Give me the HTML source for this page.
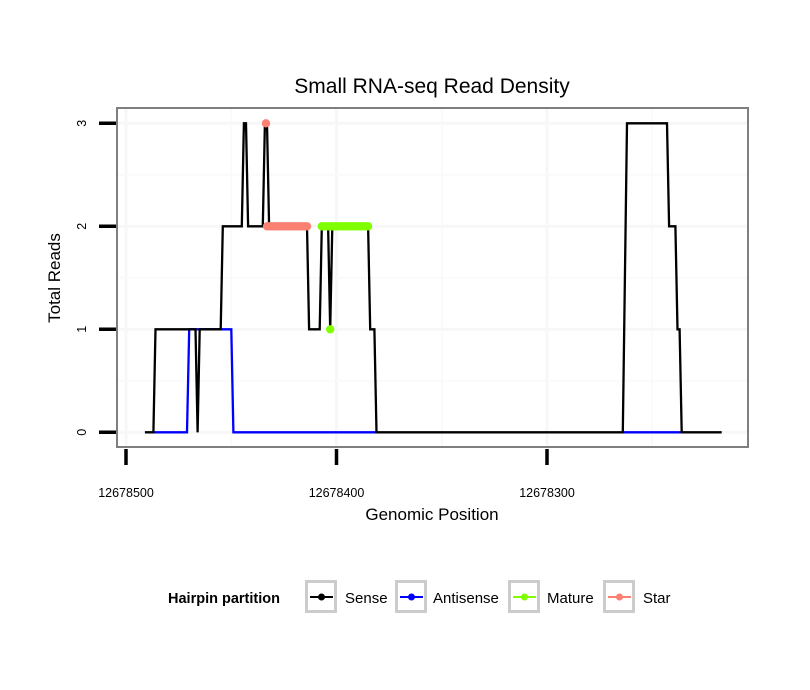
<!DOCTYPE html>
<html><head><meta charset="utf-8"><style>
html,body{margin:0;padding:0;background:#fff}
svg{display:block;font-family:"Liberation Sans",sans-serif}
</style></head><body>
<svg id="chart" width="810" height="690" viewBox="0 0 810 690">
<text x="432" y="93" font-size="21" text-anchor="middle">Small RNA-seq Read Density</text>
<rect x="117" y="108" width="631" height="339" fill="#fff"/>
<g id="grid"></g>
<g id="series"></g>
<rect x="117" y="108" width="631" height="339" fill="none" stroke="#7f7f7f" stroke-width="2"/>
<g id="axes"></g>
<text x="432" y="520" font-size="17" text-anchor="middle">Genomic Position</text>
<text transform="translate(60,278) rotate(-90)" font-size="17" text-anchor="middle">Total Reads</text>
<g>
<text x="168" y="603" font-size="14.5" font-weight="bold">Hairpin partition</text>
<g id="legend"></g>
</g>
</svg>
<script>
const xTicks = [12678500, 12678400, 12678300];
const yTicks = [0, 1, 2, 3];
const senseX = [12678491,12678487,12678486,12678467,12678466,12678465,12678455,12678454,12678445,12678444,12678443,12678442,12678435,12678434,12678433,12678432,12678414,12678413,12678408,12678407,12678404,12678403,12678402,12678385,12678384,12678382,12678381,12678264,12678262,12678243,12678242,12678239,12678238,12678237,12678236,12678217];
const senseY = [0,0,1,1,0,1,1,2,2,3,3,2,2,3,3,2,2,1,1,2,2,1,2,2,1,1,0,0,3,3,2,2,1,1,0,0];
const antiX1 = [12678487,12678471,12678470,12678450,12678449,12678381];
const antiY1 = [0,0,1,1,0,0];
const antiX2 = [12678264,12678236];
const antiY2 = [0,0];
const matureX = [12678407,12678406,12678405,12678404,12678403,12678402,12678401,12678400,12678399,12678398,12678397,12678396,12678395,12678394,12678393,12678392,12678391,12678390,12678389,12678388,12678387,12678386,12678385];
const matureY = [2,2,2,2,2,2,2,2,2,2,2,2,2,2,2,2,2,2,2,2,2,2,2];
const matureExtraX = [12678403];
const matureExtraY = [1];
const starX = [12678433,12678432,12678431,12678430,12678429,12678428,12678427,12678426,12678425,12678424,12678423,12678422,12678421,12678420,12678419,12678418,12678417,12678416,12678415,12678414];
const starY = [2,2,2,2,2,2,2,2,2,2,2,2,2,2,2,2,2,2,2,2];
const starExtraX = [12678433.5];
const starExtraY = [3];
const legendLabels = ["Sense","Antisense","Mature","Star"];
const legendColors = ["#000000","#0000ff","#7fff00","#fa8072"];

const NS="http://www.w3.org/2000/svg";
const xs = p => 126 + (12678500 - p) * 2.105;
const ys = v => 432.3 - v * 103;
function mk(tag, attrs, parent){const e=document.createElementNS(NS,tag);for(const k in attrs)e.setAttribute(k,attrs[k]);parent.appendChild(e);return e;}
const grid=document.getElementById('grid'), series=document.getElementById('series'), axes=document.getElementById('axes'), legend=document.getElementById('legend');

for(let i=0;i<xTicks.length;i++){
  [xTicks[i], xTicks[i]-50].forEach((p,j)=>{
    const g=mk('line',{x1:xs(p),x2:xs(p),y1:109,y2:446,stroke:j?'#fafafa':'#f7f7f7','stroke-width':j?2:3},grid);
    
    
  });
}
for(let i=0;i<yTicks.length;i++){
  [yTicks[i], yTicks[i]+0.5].forEach((v,j)=>{
    if(ys(v)<109) return;
    const g=mk('line',{x1:118,x2:747,y1:ys(v),y2:ys(v),stroke:j?'#fafafa':'#f7f7f7','stroke-width':j?2:3},grid);
    
    
  });
}

function line(X,Y,color,name){
  const pts=X.map((x,i)=>xs(x).toFixed(1)+','+ys(Y[i]).toFixed(1)).join(' ');
  const l=mk('polyline',{points:pts,fill:'none',stroke:color,'stroke-width':2.3,'stroke-linejoin':'miter'},series);
  
  
}
function pts(X,Y,color,name){
  for(let i=0;i<X.length;i++){
    const c=mk('circle',{cx:xs(X[i]),cy:ys(Y[i]),r:4.2,fill:color},series);
    
    
  }
}
line(antiX1,antiY1,'#0000ff','antisense-line');
line(antiX2,antiY2,'#0000ff','antisense-line');
line(senseX,senseY,'#000000','sense-line');
line(starX,starY,'#fa8072','star-line');
pts(starX,starY,'#fa8072','star-point');
pts(starExtraX,starExtraY,'#fa8072','star-point');
line(matureX,matureY,'#7fff00','mature-line');
pts(matureX,matureY,'#7fff00','mature-point');
pts(matureExtraX,matureExtraY,'#7fff00','mature-point');

for(let i=0;i<xTicks.length;i++){
  const x=xs(xTicks[i]);
  const t=mk('line',{x1:x,x2:x,y1:449,y2:465,stroke:'#000','stroke-width':3.5},axes);
  
  
  const l=mk('text',{x:x,y:497,'font-size':12.5,'text-anchor':'middle'},axes);
  l.textContent=xTicks[i];
  
  
}
for(let i=0;i<yTicks.length;i++){
  const y=ys(yTicks[i]);
  const t=mk('line',{x1:99,x2:116,y1:y,y2:y,stroke:'#000','stroke-width':3.5},axes);
  
  
  const l=mk('text',{transform:`translate(86,${y}) rotate(-90)`,'font-size':12.5,'text-anchor':'middle'},axes);
  l.textContent=yTicks[i];
  
  
}

const keyX=[305,395,508,603], textX=[345,433,547,643];
for(let i=0;i<legendLabels.length;i++){
  const g=mk('g',{},legend);
  
  
  mk('rect',{x:keyX[i]+1.5,y:581.5,width:29,height:30,fill:'#fff',stroke:'#cccccc','stroke-width':3},g);
  mk('line',{x1:keyX[i]+5,x2:keyX[i]+28,y1:597,y2:597,stroke:legendColors[i],'stroke-width':2},g);
  mk('circle',{cx:keyX[i]+16.5,cy:597,r:3.5,fill:legendColors[i]},g);
  const t=mk('text',{x:textX[i],y:603,'font-size':15},g);
  t.textContent=legendLabels[i];
}
</script>
</body></html>
